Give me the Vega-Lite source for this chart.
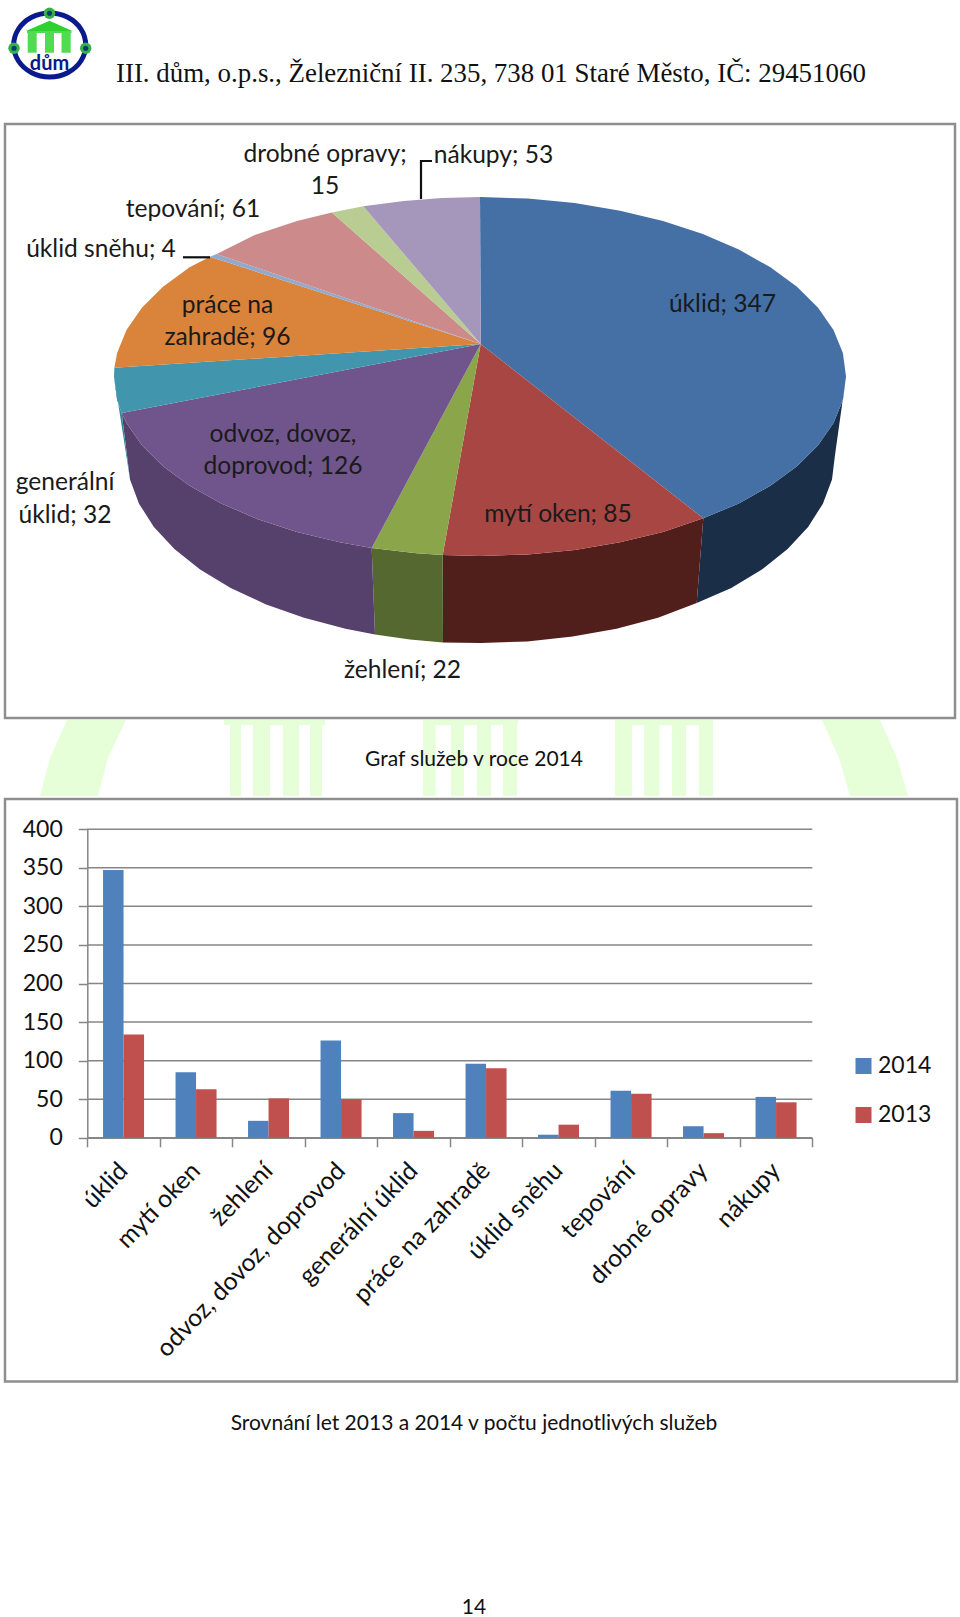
{"$schema":"https://vega.github.io/schema/vega-lite/v6.json","background":"white","autosize":{"type":"none"},"padding":{"left":5,"top":0,"right":955,"bottom":1617},"bounds":"flush","spacing":0,"config":{"font":"Lato","view":{"stroke":null}},
"vconcat":[
{"width":950,"height":124,"resolve":{"scale":{"color":"independent"}},"encoding":{"x":{"field":"x","type":"quantitative","scale":{"domain":[5,955],"zero":false,"nice":false},"axis":null},"y":{"field":"y","type":"quantitative","scale":{"domain":[124,0],"zero":false,"nice":false},"axis":null}},"layer":[
{"data":{"values":[{"i":0,"x":49.7,"y":13},{"i":1,"x":67.7,"y":17.3},{"i":2,"x":80.9,"y":29},{"i":3,"x":85.7,"y":45},{"i":4,"x":80.9,"y":61},{"i":5,"x":67.7,"y":72.7},{"i":6,"x":49.7,"y":77},{"i":7,"x":31.7,"y":72.7},{"i":8,"x":18.5,"y":61},{"i":9,"x":13.7,"y":45},{"i":10,"x":18.5,"y":29},{"i":11,"x":31.7,"y":17.3}]},
"mark":{"type":"line","interpolate":"cardinal-closed","color":"#0a1a8c","strokeWidth":5},"encoding":{"order":{"field":"i"}}},
{"data":{"values":[{"i":0,"x":49.5,"y":20.7},{"i":1,"x":72.3,"y":31},{"i":2,"x":26,"y":31},{"i":3,"x":49.5,"y":20.7}]},"mark":{"type":"line","filled":true,"color":"#2fd12f"},"encoding":{"order":{"field":"i"}}},
{"data":{"values":[{"x":27,"x2":71.5,"y":31,"y2":33},{"x":27.7,"x2":36.7,"y":33,"y2":52.7},{"x":45,"x2":54,"y":33,"y2":52.7},{"x":61.5,"x2":70.7,"y":33,"y2":52.7}]},"mark":{"type":"rect","color":"#4fdc4f"},"encoding":{"x2":{"field":"x2"},"y2":{"field":"y2"}}},
{"data":{"values":[{"x":49.5,"y":13.3},{"x":14,"y":48.3},{"x":85.7,"y":48.3}]},"mark":{"type":"point","filled":true,"size":130,"color":"#35b04a","opacity":1}},
{"data":{"values":[{"x":49.5,"y":13.3},{"x":14,"y":48.3},{"x":85.7,"y":48.3}]},"mark":{"type":"point","filled":true,"size":26,"color":"#0b3b6e","opacity":1}},
{"data":{"values":[{"x":49.5,"y":63.5,"t":"dům"}]},"mark":{"type":"text","font":"Lato","fontWeight":"bold","fontSize":20,"color":"#0a1a8c"},"encoding":{"text":{"field":"t"}}},
{"data":{"values":[{"x":116,"y":74,"t":"III. dům, o.p.s., Železniční II. 235, 738 01 Staré Město, IČ: 29451060"}]},"mark":{"type":"text","font":"Liberation Serif","fontSize":26.9,"align":"left","color":"#111111"},"encoding":{"text":{"field":"t"}}}
]},
{"width":950,"height":594,"view":{"stroke":"#8e8e8e","strokeWidth":2.5},"resolve":{"scale":{"color":"independent"}},"encoding":{"x":{"field":"x","type":"quantitative","scale":{"domain":[5,955],"zero":false,"nice":false},"axis":null},"y":{"field":"y","type":"quantitative","scale":{"domain":[718,124],"zero":false,"nice":false},"axis":null}},"layer":[
{"data":{"values":[
{"s":"úklid","i":0,"x":846,"y":376.5},{"s":"úklid","i":1,"x":842.9,"y":399.9},{"s":"úklid","i":2,"x":833.5,"y":423},{"s":"úklid","i":3,"x":818.1,"y":445.2},{"s":"úklid","i":4,"x":797,"y":466.3},{"s":"úklid","i":5,"x":770.4,"y":485.8},{"s":"úklid","i":6,"x":738.8,"y":503.4},{"s":"úklid","i":7,"x":703.3,"y":518.3},{"s":"úklid","i":8,"x":696.7,"y":603},{"s":"úklid","i":9,"x":731.3,"y":587.9},{"s":"úklid","i":10,"x":761.9,"y":569.5},{"s":"úklid","i":11,"x":787.6,"y":549},{"s":"úklid","i":12,"x":808.1,"y":526.9},{"s":"úklid","i":13,"x":822.9,"y":503.7},{"s":"úklid","i":14,"x":832,"y":479.5},{"s":"úklid","i":15,"x":835,"y":455},{"s":"úklid","i":16,"x":846,"y":376.5},
{"s":"mytí oken","i":0,"x":703.3,"y":518.3},{"s":"mytí oken","i":1,"x":663,"y":531.9},{"s":"mytí oken","i":2,"x":620.1,"y":542.3},{"s":"mytí oken","i":3,"x":574.7,"y":549.9},{"s":"mytí oken","i":4,"x":527.8,"y":554.5},{"s":"mytí oken","i":5,"x":480,"y":556},{"s":"mytí oken","i":6,"x":442.7,"y":555},{"s":"mytí oken","i":7,"x":443,"y":642.5},{"s":"mytí oken","i":8,"x":481,"y":643},{"s":"mytí oken","i":9,"x":527.2,"y":641.4},{"s":"mytí oken","i":10,"x":572.6,"y":636.6},{"s":"mytí oken","i":11,"x":616.5,"y":628.7},{"s":"mytí oken","i":12,"x":658,"y":617.8},{"s":"mytí oken","i":13,"x":696.7,"y":603},{"s":"mytí oken","i":14,"x":703.3,"y":518.3},
{"s":"žehlení","i":0,"x":442.7,"y":555},{"s":"žehlení","i":1,"x":416.5,"y":553.3},{"s":"žehlení","i":2,"x":371.7,"y":548},{"s":"žehlení","i":3,"x":375,"y":634.6},{"s":"žehlení","i":4,"x":410,"y":639.5},{"s":"žehlení","i":5,"x":443,"y":642.5},{"s":"žehlení","i":6,"x":442.7,"y":555},
{"s":"odvoz, dovoz, doprovod","i":0,"x":371.7,"y":548},{"s":"odvoz, dovoz, doprovod","i":1,"x":339.9,"y":542.3},{"s":"odvoz, dovoz, doprovod","i":2,"x":297,"y":531.9},{"s":"odvoz, dovoz, doprovod","i":3,"x":257.2,"y":518.9},{"s":"odvoz, dovoz, doprovod","i":4,"x":221.2,"y":503.4},{"s":"odvoz, dovoz, doprovod","i":5,"x":189.6,"y":485.8},{"s":"odvoz, dovoz, doprovod","i":6,"x":163,"y":466.3},{"s":"odvoz, dovoz, doprovod","i":7,"x":141.9,"y":445.2},{"s":"odvoz, dovoz, doprovod","i":8,"x":126.5,"y":423},{"s":"odvoz, dovoz, doprovod","i":9,"x":121.7,"y":413},{"s":"odvoz, dovoz, doprovod","i":10,"x":130,"y":479.5},{"s":"odvoz, dovoz, doprovod","i":11,"x":139,"y":503.7},{"s":"odvoz, dovoz, doprovod","i":12,"x":153.9,"y":526.9},{"s":"odvoz, dovoz, doprovod","i":13,"x":174.4,"y":549},{"s":"odvoz, dovoz, doprovod","i":14,"x":200.1,"y":569.5},{"s":"odvoz, dovoz, doprovod","i":15,"x":230.7,"y":587.9},{"s":"odvoz, dovoz, doprovod","i":16,"x":265.5,"y":604.2},{"s":"odvoz, dovoz, doprovod","i":17,"x":304,"y":617.8},{"s":"odvoz, dovoz, doprovod","i":18,"x":345.5,"y":628.7},{"s":"odvoz, dovoz, doprovod","i":19,"x":375,"y":634.6},{"s":"odvoz, dovoz, doprovod","i":20,"x":371.7,"y":548},
{"s":"generální úklid","i":0,"x":121.7,"y":413},{"s":"generální úklid","i":1,"x":117.1,"y":399.9},{"s":"generální úklid","i":2,"x":114,"y":376.5},{"s":"generální úklid","i":3,"x":130,"y":479.5},{"s":"generální úklid","i":4,"x":121.7,"y":413}]},
"mark":{"type":"line","filled":true},"encoding":{"order":{"field":"i"},"color":{"field":"s","type":"nominal","legend":null,"scale":{"domain":["úklid","mytí oken","žehlení","odvoz, dovoz, doprovod","generální úklid"],"range":["#1b2e48","#501e1b","#55682f","#55416b","#2f8aa0"]}}}},
{"data":{"values":[
{"s":"úklid","i":0,"x":480.7,"y":344},{"s":"úklid","i":1,"x":480,"y":197},{"s":"úklid","i":2,"x":527.8,"y":198.5},{"s":"úklid","i":3,"x":574.7,"y":203.1},{"s":"úklid","i":4,"x":620.1,"y":210.7},{"s":"úklid","i":5,"x":663,"y":221.1},{"s":"úklid","i":6,"x":702.8,"y":234.1},{"s":"úklid","i":7,"x":738.8,"y":249.6},{"s":"úklid","i":8,"x":770.4,"y":267.2},{"s":"úklid","i":9,"x":797,"y":286.8},{"s":"úklid","i":10,"x":818.1,"y":307.8},{"s":"úklid","i":11,"x":833.5,"y":330},{"s":"úklid","i":12,"x":842.9,"y":353.1},{"s":"úklid","i":13,"x":846,"y":376.5},{"s":"úklid","i":14,"x":842.9,"y":399.9},{"s":"úklid","i":15,"x":833.5,"y":423},{"s":"úklid","i":16,"x":818.1,"y":445.2},{"s":"úklid","i":17,"x":797,"y":466.3},{"s":"úklid","i":18,"x":770.4,"y":485.8},{"s":"úklid","i":19,"x":738.8,"y":503.4},{"s":"úklid","i":20,"x":703.3,"y":518.3},{"s":"úklid","i":21,"x":480.7,"y":344},
{"s":"mytí oken","i":0,"x":480.7,"y":344},{"s":"mytí oken","i":1,"x":703.3,"y":518.3},{"s":"mytí oken","i":2,"x":663,"y":531.9},{"s":"mytí oken","i":3,"x":620.1,"y":542.3},{"s":"mytí oken","i":4,"x":574.7,"y":549.9},{"s":"mytí oken","i":5,"x":527.8,"y":554.5},{"s":"mytí oken","i":6,"x":480,"y":556},{"s":"mytí oken","i":7,"x":442.7,"y":555},{"s":"mytí oken","i":8,"x":480.7,"y":344},
{"s":"žehlení","i":0,"x":480.7,"y":344},{"s":"žehlení","i":1,"x":442.7,"y":555},{"s":"žehlení","i":2,"x":416.5,"y":553.3},{"s":"žehlení","i":3,"x":371.7,"y":548},{"s":"žehlení","i":4,"x":480.7,"y":344},
{"s":"odvoz, dovoz, doprovod","i":0,"x":480.7,"y":344},{"s":"odvoz, dovoz, doprovod","i":1,"x":371.7,"y":548},{"s":"odvoz, dovoz, doprovod","i":2,"x":339.9,"y":542.3},{"s":"odvoz, dovoz, doprovod","i":3,"x":297,"y":531.9},{"s":"odvoz, dovoz, doprovod","i":4,"x":257.2,"y":518.9},{"s":"odvoz, dovoz, doprovod","i":5,"x":221.2,"y":503.4},{"s":"odvoz, dovoz, doprovod","i":6,"x":189.6,"y":485.8},{"s":"odvoz, dovoz, doprovod","i":7,"x":163,"y":466.3},{"s":"odvoz, dovoz, doprovod","i":8,"x":141.9,"y":445.2},{"s":"odvoz, dovoz, doprovod","i":9,"x":126.5,"y":423},{"s":"odvoz, dovoz, doprovod","i":10,"x":121.7,"y":413},{"s":"odvoz, dovoz, doprovod","i":11,"x":480.7,"y":344},
{"s":"generální úklid","i":0,"x":480.7,"y":344},{"s":"generální úklid","i":1,"x":121.7,"y":413},{"s":"generální úklid","i":2,"x":117.1,"y":399.9},{"s":"generální úklid","i":3,"x":114,"y":376.5},{"s":"generální úklid","i":4,"x":114.4,"y":367.7},{"s":"generální úklid","i":5,"x":480.7,"y":344},
{"s":"práce na zahradě","i":0,"x":480.7,"y":344},{"s":"práce na zahradě","i":1,"x":114.4,"y":367.7},{"s":"práce na zahradě","i":2,"x":117.1,"y":353.1},{"s":"práce na zahradě","i":3,"x":126.5,"y":330},{"s":"práce na zahradě","i":4,"x":141.9,"y":307.8},{"s":"práce na zahradě","i":5,"x":163,"y":286.8},{"s":"práce na zahradě","i":6,"x":189.6,"y":267.2},{"s":"práce na zahradě","i":7,"x":210,"y":256.7},{"s":"práce na zahradě","i":8,"x":480.7,"y":344},
{"s":"úklid sněhu","i":0,"x":480.7,"y":344},{"s":"úklid sněhu","i":1,"x":210,"y":256.7},{"s":"úklid sněhu","i":2,"x":216.7,"y":254.1},{"s":"úklid sněhu","i":3,"x":480.7,"y":344},
{"s":"tepování","i":0,"x":480.7,"y":344},{"s":"tepování","i":1,"x":216.7,"y":254.1},{"s":"tepování","i":2,"x":254.7,"y":235.1},{"s":"tepování","i":3,"x":297,"y":221.1},{"s":"tepování","i":4,"x":331.8,"y":212.4},{"s":"tepování","i":5,"x":480.7,"y":344},
{"s":"drobné opravy","i":0,"x":480.7,"y":344},{"s":"drobné opravy","i":1,"x":331.8,"y":212.4},{"s":"drobné opravy","i":2,"x":363.3,"y":206.3},{"s":"drobné opravy","i":3,"x":480.7,"y":344},
{"s":"nákupy","i":0,"x":480.7,"y":344},{"s":"nákupy","i":1,"x":363.3,"y":206.3},{"s":"nákupy","i":2,"x":403.9,"y":201},{"s":"nákupy","i":3,"x":441.7,"y":198},{"s":"nákupy","i":4,"x":480,"y":197},{"s":"nákupy","i":5,"x":480.7,"y":344}]},
"mark":{"type":"line","filled":true},"encoding":{"order":{"field":"i"},"color":{"field":"s","type":"nominal","legend":null,"scale":{"domain":["úklid","mytí oken","žehlení","odvoz, dovoz, doprovod","generální úklid","práce na zahradě","úklid sněhu","tepování","drobné opravy","nákupy"],"range":["#4470a6","#a84644","#8aa54a","#70558c","#4195ad","#d9833b","#8fa9cf","#cd8a8a","#b9cc92","#a497bb"]}}}},
{"data":{"values":[{"s":"a","i":0,"x":432,"y":161},{"s":"a","i":1,"x":421,"y":161},{"s":"a","i":2,"x":421,"y":199},{"s":"b","i":0,"x":183,"y":257.3},{"s":"b","i":1,"x":210,"y":257.3}]},"mark":{"type":"line","color":"#111111","strokeWidth":2.2},"encoding":{"detail":{"field":"s"},"order":{"field":"i"}}},
{"data":{"values":[{"t":"úklid; 347","x":722.5,"y":305},{"t":"mytí oken; 85","x":558,"y":515},{"t":"žehlení; 22","x":402.5,"y":671},{"t":"odvoz, dovoz,\ndoprovod; 126","x":283,"y":434.5},{"t":"generální\núklid; 32","x":65,"y":483},{"t":"práce na\nzahradě; 96","x":227.5,"y":305.5},{"t":"úklid sněhu; 4","x":101,"y":250},{"t":"tepování; 61","x":193,"y":210},{"t":"drobné opravy;\n15","x":325,"y":154.5},{"t":"nákupy; 53","x":493.5,"y":156}]},"mark":{"type":"text","font":"Lato","fontSize":24.6,"lineHeight":32.7,"lineBreak":"\n","color":"#1a1a1a"},"encoding":{"text":{"field":"t"}}}
]},
{"width":950,"height":80.5,"encoding":{"x":{"field":"x","type":"quantitative","scale":{"domain":[5,955],"zero":false,"nice":false},"axis":null},"y":{"field":"y","type":"quantitative","scale":{"domain":[798.5,718],"zero":false,"nice":false},"axis":null}},"layer":[
{"data":{"values":[{"x":224,"x2":325,"y":720,"y2":725},{"x":230,"x2":241,"y":725,"y2":796},{"x":253,"x2":270,"y":725,"y2":796},{"x":283,"x2":299,"y":725,"y2":796},{"x":310,"x2":322,"y":725,"y2":796},{"x":423,"x2":518,"y":720,"y2":725},{"x":423,"x2":435.6,"y":725,"y2":796},{"x":451,"x2":464,"y":725,"y2":796},{"x":477,"x2":491,"y":725,"y2":796},{"x":503,"x2":517,"y":725,"y2":796},{"x":615,"x2":713,"y":720,"y2":725},{"x":615,"x2":632,"y":725,"y2":796},{"x":644,"x2":659.5,"y":725,"y2":796},{"x":672,"x2":686,"y":725,"y2":796},{"x":699,"x2":713,"y":725,"y2":796}]},"mark":{"type":"rect","color":"#e6ffd9"},"encoding":{"x2":{"field":"x2"},"y2":{"field":"y2"}}},
{"data":{"values":[{"s":"a","i":0,"x":67,"y":720},{"s":"a","i":1,"x":126,"y":720},{"s":"a","i":2,"x":108,"y":758},{"s":"a","i":3,"x":98,"y":796},{"s":"a","i":4,"x":40,"y":796},{"s":"a","i":5,"x":50,"y":758},{"s":"a","i":6,"x":67,"y":720},{"s":"b","i":0,"x":822,"y":720},{"s":"b","i":1,"x":880,"y":720},{"s":"b","i":2,"x":897,"y":758},{"s":"b","i":3,"x":908,"y":796},{"s":"b","i":4,"x":850,"y":796},{"s":"b","i":5,"x":839,"y":758},{"s":"b","i":6,"x":822,"y":720}]},"mark":{"type":"line","filled":true,"color":"#e6ffd9"},"encoding":{"detail":{"field":"s"},"order":{"field":"i"}}},
{"data":{"values":[{"x":474,"y":760,"t":"Graf služeb v roce 2014"}]},"mark":{"type":"text","font":"Lato","fontSize":21,"color":"#111111"},"encoding":{"text":{"field":"t"}}}
]},
{"width":952,"height":582.5,"view":{"stroke":"#8e8e8e","strokeWidth":2.5},"resolve":{"scale":{"x":"independent"},"axis":{"x":"independent"}},"layer":[
{"data":{"values":[{"h":0},{"h":50},{"h":100},{"h":150},{"h":200},{"h":250},{"h":300},{"h":350},{"h":400}]},"mark":{"type":"rule","color":"#868686","strokeWidth":1.5},"encoding":{"y":{"field":"h","type":"quantitative","scale":{"domain":[0,400],"range":[338.8,30.2]},"axis":{"title":null,"values":[0,50,100,150,200,250,300,350,400],"offset":-82.3,"grid":false,"tickSize":9,"tickColor":"#868686","tickWidth":1.5,"domainColor":"#868686","domainWidth":1.5,"labelFont":"Lato","labelFontSize":23,"labelColor":"#111111","labelPadding":16}},"x":{"datum":0,"type":"quantitative","scale":{"domain":[0,1],"range":[82.3,807.3]},"axis":null},"x2":{"datum":1}}},
{"data":{"values":[{"sluzba":"úklid","rok":"2014","pocet":347},{"sluzba":"mytí oken","rok":"2014","pocet":85},{"sluzba":"žehlení","rok":"2014","pocet":22},{"sluzba":"odvoz, dovoz, doprovod","rok":"2014","pocet":126},{"sluzba":"generální úklid","rok":"2014","pocet":32},{"sluzba":"práce na zahradě","rok":"2014","pocet":96},{"sluzba":"úklid sněhu","rok":"2014","pocet":4},{"sluzba":"tepování","rok":"2014","pocet":61},{"sluzba":"drobné opravy","rok":"2014","pocet":15},{"sluzba":"nákupy","rok":"2014","pocet":53},{"sluzba":"úklid","rok":"2013","pocet":134},{"sluzba":"mytí oken","rok":"2013","pocet":63},{"sluzba":"žehlení","rok":"2013","pocet":51},{"sluzba":"odvoz, dovoz, doprovod","rok":"2013","pocet":50},{"sluzba":"generální úklid","rok":"2013","pocet":9},{"sluzba":"práce na zahradě","rok":"2013","pocet":90},{"sluzba":"úklid sněhu","rok":"2013","pocet":17},{"sluzba":"tepování","rok":"2013","pocet":57},{"sluzba":"drobné opravy","rok":"2013","pocet":6},{"sluzba":"nákupy","rok":"2013","pocet":46}]},
"mark":{"type":"bar"},"encoding":{"x":{"field":"sluzba","type":"nominal","scale":{"domain":["úklid","mytí oken","žehlení","odvoz, dovoz, doprovod","generální úklid","práce na zahradě","úklid sněhu","tepování","drobné opravy","nákupy"],"range":[82.3,807.3],"paddingInner":0,"paddingOuter":0},"axis":{"title":null,"offset":-243.7,"tickBand":"extent","tickSize":9,"tickColor":"#868686","tickWidth":1.5,"domainColor":"#868686","domainWidth":1.5,"labelAngle":-46,"labelAlign":"right","labelBaseline":"middle","labelFont":"Lato","labelFontSize":24.8,"labelColor":"#111111","labelPadding":20,"labelOverlap":false,"labelBound":false,"labelFlush":false,"labelLimit":0}},"xOffset":{"field":"rok","type":"nominal","scale":{"domain":["2014","2013"],"paddingInner":0,"paddingOuter":0.768}},"y":{"field":"pocet","type":"quantitative"},"color":{"field":"rok","type":"nominal","scale":{"domain":["2014","2013"],"range":["#4f81bd","#c0504d"]},"legend":{"title":null,"orient":"none","legendX":847,"legendY":1054.5,"symbolType":"square","symbolSize":256,"symbolStrokeWidth":0,"labelFont":"Lato","labelFontSize":23,"labelColor":"#111111","labelOffset":3,"rowPadding":25}}}}
]},
{"width":952,"height":236,"layer":[
{"data":{"values":[{"x":474,"y":1423,"t":"Srovnání let 2013 a 2014 v počtu jednotlivých služeb"},{"x":474,"y":1607,"t":"14"}]},"mark":{"type":"text","font":"Lato","fontSize":21,"color":"#111111"},"encoding":{"x":{"field":"x","type":"quantitative","scale":{"domain":[5,957],"zero":false,"nice":false},"axis":null},"y":{"field":"y","type":"quantitative","scale":{"domain":[1617,1381],"zero":false,"nice":false},"axis":null},"text":{"field":"t"}}}
]}
]}
